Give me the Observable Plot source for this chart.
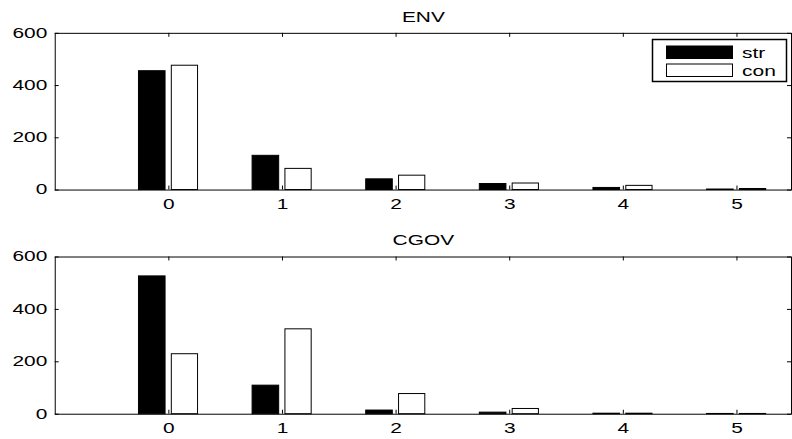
<!DOCTYPE html>
<html>
<head>
<meta charset="utf-8">
<script src="https://cdn.jsdelivr.net/npm/d3@7"></script>
<script src="https://cdn.jsdelivr.net/npm/@observablehq/plot@0.6"></script>
<style>
  html, body { margin: 0; padding: 0; background: white; }
  #wrap { position: relative; width: 792px; height: 439px; overflow: hidden; background: white; }
  .panel { position: absolute; left: 0; }
  #legend { position: absolute; left: 0; top: 0; }
</style>
</head>
<body>
<div id="wrap">
  <div class="panel" id="p1" style="top:0px"></div>
  <div class="panel" id="p2" style="top:220px"></div>
  <svg id="legend" width="792" height="439"></svg>
</div>
<script>
// ---- data ----
const categories = [0, 1, 2, 3, 4, 5];
const seriesNames = ["str", "con"];
const yTicks = [0, 200, 400, 600];
const titles = ["ENV", "CGOV"];
const envStr = [455, 131, 41, 23, 8, 2];
const envCon = [476, 81, 55, 25, 16, 4];
const cgovStr = [526, 109, 14, 6, 2, 1];
const cgovCon = [229, 324, 77, 20, 2, 1];

const FONT = "'Liberation Sans', Arial, Helvetica, sans-serif";
const STRETCH = 1.5;

function stretchText(svg) {
  svg.querySelectorAll("text").forEach(t => {
    const tr = t.getAttribute("transform") || "";
    t.setAttribute("transform", tr + ` scale(${STRETCH},1)`);
  });
}

function panel(title, strVals, conVals, opt) {
  const W = 796, H = opt.height, mt = opt.marginTop, mb = opt.marginBottom, ml = 55, mr = 1;
  const ih = H - mt - mb, iw = W - ml - mr;
  const rows = categories.map((c, i) => ({c, str: strVals[i], con: conVals[i]}));
  const off = {str: [-0.263, -0.029], con: [0.026, 0.257]};
  const svg = Plot.plot({
    width: W, height: H,
    marginTop: mt, marginBottom: mb, marginLeft: ml, marginRight: mr,
    style: {fontFamily: FONT, fontSize: "14px", color: "black", background: "white", overflow: "visible"},
    x: {domain: [-1, 5.48], label: null},
    y: {domain: [0, 600], label: null},
    marks: [
      Plot.rectY(rows, {x1: d => d.c + off.str[0], x2: d => d.c + off.str[1], y1: 0, y2: "str", fill: "black", stroke: "black", strokeWidth: 1}),
      Plot.rectY(rows, {x1: d => d.c + off.con[0], x2: d => d.c + off.con[1], y1: 0, y2: "con", fill: "white", stroke: "black", strokeWidth: 1}),
      Plot.frame({stroke: "black", strokeWidth: 1}),
      Plot.ruleX(categories, {x: d => d, insetTop: ih - 4, stroke: "black"}),
      Plot.ruleX(categories, {x: d => d, insetBottom: ih - 4, stroke: "black"}),
      Plot.ruleY(yTicks, {y: d => d, insetRight: iw - 4, stroke: "black"}),
      Plot.ruleY(yTicks, {y: d => d, insetLeft: iw - 4, stroke: "black"}),
      Plot.axisX({ticks: categories, tickSize: 0, tickPadding: 9, tickFormat: d => String(d), fontSize: 14}),
      Plot.axisY({ticks: yTicks, tickSize: 0, tickPadding: 8, tickFormat: d => String(d), fontSize: 14}),
      Plot.text([title], {frameAnchor: "top", dy: opt.titleDy, fontSize: 14, fill: "black"})
    ]
  });
  stretchText(svg);
  return svg;
}

document.getElementById("p1").appendChild(
  panel(titles[0], envStr, envCon, {height: 220, marginTop: 33, marginBottom: 29.5, titleDy: -21.5}));
document.getElementById("p2").appendChild(
  panel(titles[1], cgovStr, cgovCon, {height: 219, marginTop: 36.7, marginBottom: 24.3, titleDy: -21.7}));

// ---- legend ----
const lg = d3.select("#legend");
lg.append("rect").attr("x", 652.5).attr("y", 39.5).attr("width", 134).attr("height", 42)
  .attr("fill", "white").attr("stroke", "black").attr("stroke-width", 1.5);
const swatchFill = {str: "black", con: "white"};
const swatchY = [46, 64];
const textY = [58.3, 75.7];
seriesNames.forEach((s, i) => {
  lg.append("rect").attr("x", 666.5).attr("y", swatchY[i]).attr("width", 66).attr("height", 12.5)
    .attr("fill", swatchFill[s]).attr("stroke", "black").attr("stroke-width", 1);
  lg.append("text").attr("transform", `translate(742,${textY[i]}) scale(${STRETCH},1)`)
    .attr("font-family", FONT).attr("font-size", 14).attr("fill", "black").text(s);
});
</script>
</body>
</html>
